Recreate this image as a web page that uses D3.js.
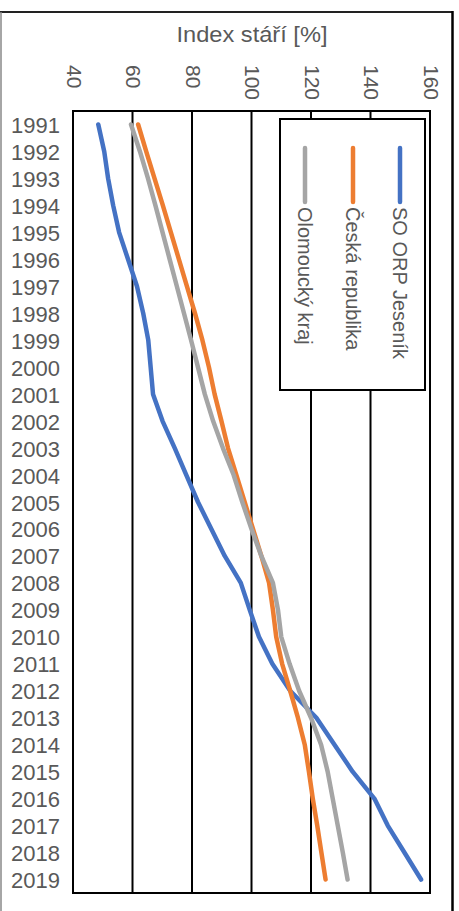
<!DOCTYPE html>
<html><head><meta charset="utf-8">
<script src="https://cdn.jsdelivr.net/npm/d3@7/dist/d3.min.js"></script>
<style>html,body{margin:0;padding:0;background:#fff;}svg{display:block;}</style>
</head><body>
<svg id="c" width="459" height="911"></svg>
<script>
const years = d3.range(1991, 2020).map(String);
const seriesNames = ["SO ORP Jeseník", "Česká republika", "Olomoucký kraj"];
const jesenik = [48.5,50.5,51.8,53.5,55.5,58.5,61.5,63.6,65.3,66.1,66.9,70.1,74.2,78.1,82.0,86.5,91.0,96.4,99.4,102.5,107.0,113.0,121.8,127.9,134.0,141.3,145.8,151.4,157.0];
const ceskaRep = [61.9,64.6,67.4,70.2,72.9,75.6,78.3,81.0,83.5,85.7,87.6,89.9,92.1,94.9,97.7,100.5,103.3,105.9,107.2,108.3,110.3,113.0,115.6,117.9,119.3,120.6,122.1,123.5,124.9];
const olomoucky = [59.5,62.5,65.2,67.7,70.1,72.5,74.9,77.3,79.7,82.0,84.3,87.1,90.4,94.0,96.9,100.0,103.3,107.2,108.9,110.0,112.8,116.0,120.0,123.4,125.6,127.3,129.0,130.7,132.3];
const valueTicks = [40,60,80,100,120,140,160];
const axisTitle = "Index stáří [%]";
const colors = ["#4472C4", "#ED7D31", "#A5A5A5"];
const allSeries = [jesenik, ceskaRep, olomoucky];

const svg = d3.select("#c");
const font = "'Liberation Sans', Arial, sans-serif";
const textCol = "#595959";

// outer frame
svg.append("line").attr("x1",0).attr("x2",453).attr("y1",12).attr("y2",12).attr("stroke","#222").attr("stroke-width",2);
svg.append("line").attr("x1",1).attr("x2",1).attr("y1",12).attr("y2",911).attr("stroke","#888").attr("stroke-width",1.5);
svg.append("line").attr("x1",452.5).attr("x2",452.5).attr("y1",11).attr("y2",911).attr("stroke","#000").attr("stroke-width",2.5);

const x = d3.scaleLinear().domain([40,160]).range([73,430]);
const y = d3.scaleBand().domain(years).range([111,893]);
const yc = d => y(d) + y.bandwidth()/2;

// gridlines
const g = svg.append("g");
g.selectAll("line.grid").data(valueTicks).join("line")
  .attr("x1", d=>x(d)).attr("x2", d=>x(d)).attr("y1",111).attr("y2",893)
  .attr("stroke","#000").attr("stroke-width",2);
g.append("line").attr("x1",x(40)-1).attr("x2",x(160)+1).attr("y1",111).attr("y2",111).attr("stroke","#000").attr("stroke-width",2);
g.append("line").attr("x1",x(40)-1).attr("x2",x(160)+1).attr("y1",893).attr("y2",893).attr("stroke","#000").attr("stroke-width",2);

// value tick labels (rotated)
svg.selectAll("text.vt").data(valueTicks).join("text")
  .attr("transform", d=>`translate(${x(d)+1},65) rotate(90)`)
  .attr("dominant-baseline","central")
  .attr("font-family",font).attr("font-size",21).attr("fill",textCol)
  .text(d=>d);

// axis title
svg.append("text").attr("x",252).attr("y",42).attr("text-anchor","middle")
  .attr("font-family",font).attr("font-size",22).attr("fill",textCol)
  .attr("textLength",151).attr("lengthAdjust","spacingAndGlyphs").text(axisTitle);

// year labels
svg.selectAll("text.yr").data(years).join("text")
  .attr("x",60).attr("y",d=>yc(d)+1).attr("text-anchor","end").attr("dominant-baseline","central")
  .attr("font-family",font).attr("font-size",22).attr("fill",textCol).text(d=>d);

// lines
const line = d3.line().x(d=>x(d[1])).y(d=>yc(d[0]));
allSeries.forEach((s,i)=>{
  svg.append("path").datum(years.map((yr,j)=>[yr,s[j]]))
    .attr("d", line).attr("fill","none").attr("stroke",colors[i]).attr("stroke-width",4.5)
    .attr("stroke-linecap","round").attr("stroke-linejoin","round");
});

// legend
svg.append("rect").attr("x",280).attr("y",119).attr("width",145).attr("height",271)
  .attr("fill","#fff").attr("stroke","#000").attr("stroke-width",2);
const lx = [400, 353, 305];
seriesNames.forEach((n,i)=>{
  svg.append("line").attr("x1",lx[i]).attr("x2",lx[i]).attr("y1",148).attr("y2",202)
    .attr("stroke",colors[i]).attr("stroke-width",4.5).attr("stroke-linecap","round");
  svg.append("text").attr("transform",`translate(${lx[i]},207) rotate(90)`)
    .attr("dominant-baseline","central")
    .attr("font-family",font).attr("font-size",20).attr("fill",textCol).text(n);
});
</script>
</body></html>
